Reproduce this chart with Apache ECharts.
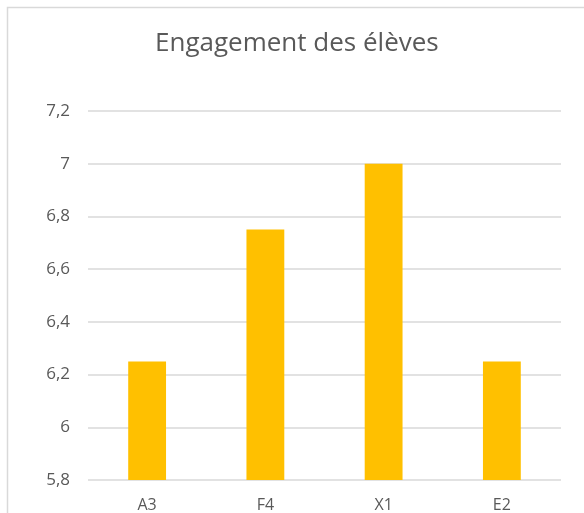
<!DOCTYPE html>
<html>
<head>
<meta charset="utf-8">
<script src="https://cdn.jsdelivr.net/npm/echarts@6/dist/echarts.min.js"></script>
<style>
  html, body { margin: 0; padding: 0; background: #fff; }
  #engagement { width: 584px; height: 513px; }
</style>
</head>
<body>
<div id="engagement"></div>
<script>
var classes = ['A3', 'F4', 'X1', 'E2'];
var engagementScores = [6.25, 6.75, 7.0, 6.25];

var engagement = echarts.init(document.getElementById('engagement'));

var engagementOptions = {
  animation: false,
  backgroundColor: '#fff',
  textStyle: { fontFamily: 'Open Sans' },
  graphic: [
    {
      type: 'rect',
      shape: { x: 7.5, y: 7.5, width: 600, height: 540 },
      style: { fill: 'none', stroke: '#d9d9d9', lineWidth: 1.5 },
      silent: true
    }
  ],
  title: {
    text: 'Engagement des élèves',
    left: 150,
    top: 26,
    textStyle: { fontFamily: 'Open Sans', fontSize: 26, fontWeight: 'normal', color: '#595959' }
  },
  grid: { left: 88, right: 23, top: 111, bottom: 32 },
  xAxis: {
    type: 'category',
    data: classes,
    axisLine: { show: false },
    axisTick: { show: false },
    axisLabel: { color: '#595959', fontSize: 16, margin: 17 }
  },
  yAxis: {
    type: 'value',
    min: 5.8,
    max: 7.2,
    interval: 0.2,
    axisLine: { show: false },
    axisTick: { show: false },
    splitLine: { lineStyle: { color: '#d9d9d9', width: 1.5 } },
    axisLabel: {
      color: '#595959',
      fontSize: 17,
      margin: 18,
      formatter: function (v) {
        return String(Math.round(v * 10) / 10).replace('.', ',');
      }
    }
  },
  series: [
    {
      name: 'Engagement',
      type: 'bar',
      data: engagementScores,
      barWidth: '32%',
      itemStyle: { color: '#FFC000' }
    }
  ]
};

engagement.setOption(engagementOptions);
</script>
</body>
</html>
